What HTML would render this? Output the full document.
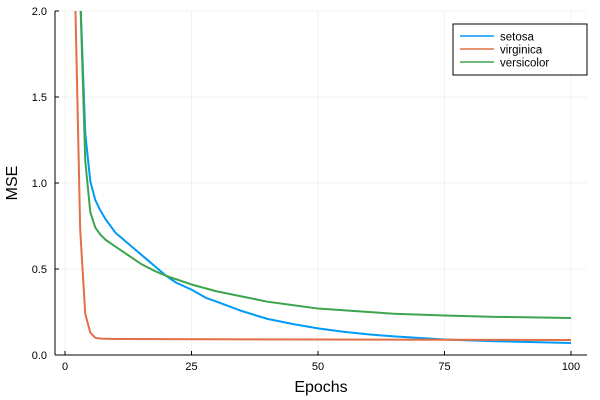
<!DOCTYPE html>
<html><head><meta charset="utf-8"><style>body{margin:0;background:#fff}svg{display:block;font-family:"Liberation Sans",sans-serif}</style></head>
<body>
<svg id="chart" width="600" height="400">
<defs><clipPath id="pc"><rect x="55" y="11" width="532" height="344"/></clipPath></defs>
<g id="grid"></g><g id="series" clip-path="url(#pc)"></g><g id="axes"></g>
<text x="321" y="392" font-size="16" text-anchor="middle">Epochs</text>
<text x="17" y="183" font-size="16" text-anchor="middle" transform="rotate(-90 17 183)">MSE</text>
<g>
<rect x="453" y="24" width="134" height="51" fill="#fff" stroke="#000" stroke-width="1"/>
<line x1="460" y1="36" x2="494" y2="36" stroke="#009af9" stroke-width="1.5"/>
<text x="500" y="40.5" font-size="11.5">setosa</text>
<line x1="460" y1="49" x2="494" y2="49" stroke="#e26f46" stroke-width="1.5"/>
<text x="500" y="53.5" font-size="11.5">virginica</text>
<line x1="460" y1="62" x2="494" y2="62" stroke="#3da44d" stroke-width="1.5"/>
<text x="500" y="66.5" font-size="11.5">versicolor</text>
</g>
</svg>
<script>
const xTicks=[0,25,50,75,100];
const yTicks=[0,0.5,1.0,1.5,2.0];
const yTickLabels=["0.0","0.5","1.0","1.5","2.0"];
const setosaEpochs=[1,2,3,4,5,6,7,8,9,10,12,14,16,18,20,22,25,28,30,35,40,45,50,55,60,65,75,85,100];
const setosaMSE=[5,3.5,2.1,1.29,1.01,0.9,0.84,0.79,0.75,0.71,0.66,0.61,0.56,0.51,0.46,0.42,0.38,0.33,0.31,0.255,0.21,0.18,0.155,0.135,0.12,0.108,0.09,0.08,0.07];
const virginicaEpochs=[1,2,3,4,5,6,7,10,20,50,75,100];
const virginicaMSE=[5,2.1,0.73,0.24,0.13,0.1,0.095,0.093,0.092,0.09,0.089,0.087];
const versicolorEpochs=[1,2,3,4,5,6,7,8,10,12,15,18,20,25,30,35,40,45,50,55,60,65,75,85,100];
const versicolorMSE=[5,3.5,2.1,1.13,0.83,0.74,0.7,0.67,0.63,0.59,0.53,0.485,0.46,0.41,0.37,0.34,0.31,0.29,0.27,0.26,0.25,0.24,0.23,0.222,0.215];
const X=v=>65+v*5.06, Y=v=>355-v*172;
const ns="http://www.w3.org/2000/svg";
function mk(tag,attrs,parent){const e=document.createElementNS(ns,tag);for(const k in attrs)e.setAttribute(k,attrs[k]);parent.appendChild(e);return e;}
const grid=document.getElementById('grid'),axes=document.getElementById('axes'),series=document.getElementById('series');
xTicks.forEach(t=>{
 const g=mk('line',{x1:X(t),x2:X(t),y1:11,y2:355,stroke:'#000','stroke-opacity':0.1,'stroke-width':0.5},grid);
 
 
 const tk=mk('line',{x1:X(t),x2:X(t),y1:355,y2:351,stroke:'#000','stroke-width':1},axes);
 
 
 const l=mk('text',{x:X(t),y:370,'font-size':11,'text-anchor':'middle'},axes);l.textContent=t;
 
 
});
yTicks.forEach((t,i)=>{
 const g=mk('line',{x1:55,x2:587,y1:Y(t),y2:Y(t),stroke:'#000','stroke-opacity':0.1,'stroke-width':0.5},grid);
 
 
 const tk=mk('line',{x1:55,x2:59,y1:Y(t),y2:Y(t),stroke:'#000','stroke-width':1},axes);
 
 
 const l=mk('text',{x:47,y:Y(t)+4,'font-size':11,'text-anchor':'end'},axes);l.textContent=yTickLabels[i];
 
 
});
const xa=mk('line',{x1:55,x2:587,y1:355,y2:355,stroke:'#000','stroke-width':1},axes);


const ya=mk('line',{x1:55,x2:55,y1:11,y2:355,stroke:'#000','stroke-width':1},axes);


function draw(xs,ys,color,name){
 const p=mk('polyline',{points:xs.map((x,i)=>X(x)+','+Y(ys[i])).join(' '),fill:'none',stroke:color,'stroke-width':2,'stroke-linejoin':'round'},series);
 
 
}
draw(setosaEpochs,setosaMSE,'#009af9','series-setosa');
draw(virginicaEpochs,virginicaMSE,'#e26f46','series-virginica');
draw(versicolorEpochs,versicolorMSE,'#3da44d','series-versicolor');
</script>
</body></html>
